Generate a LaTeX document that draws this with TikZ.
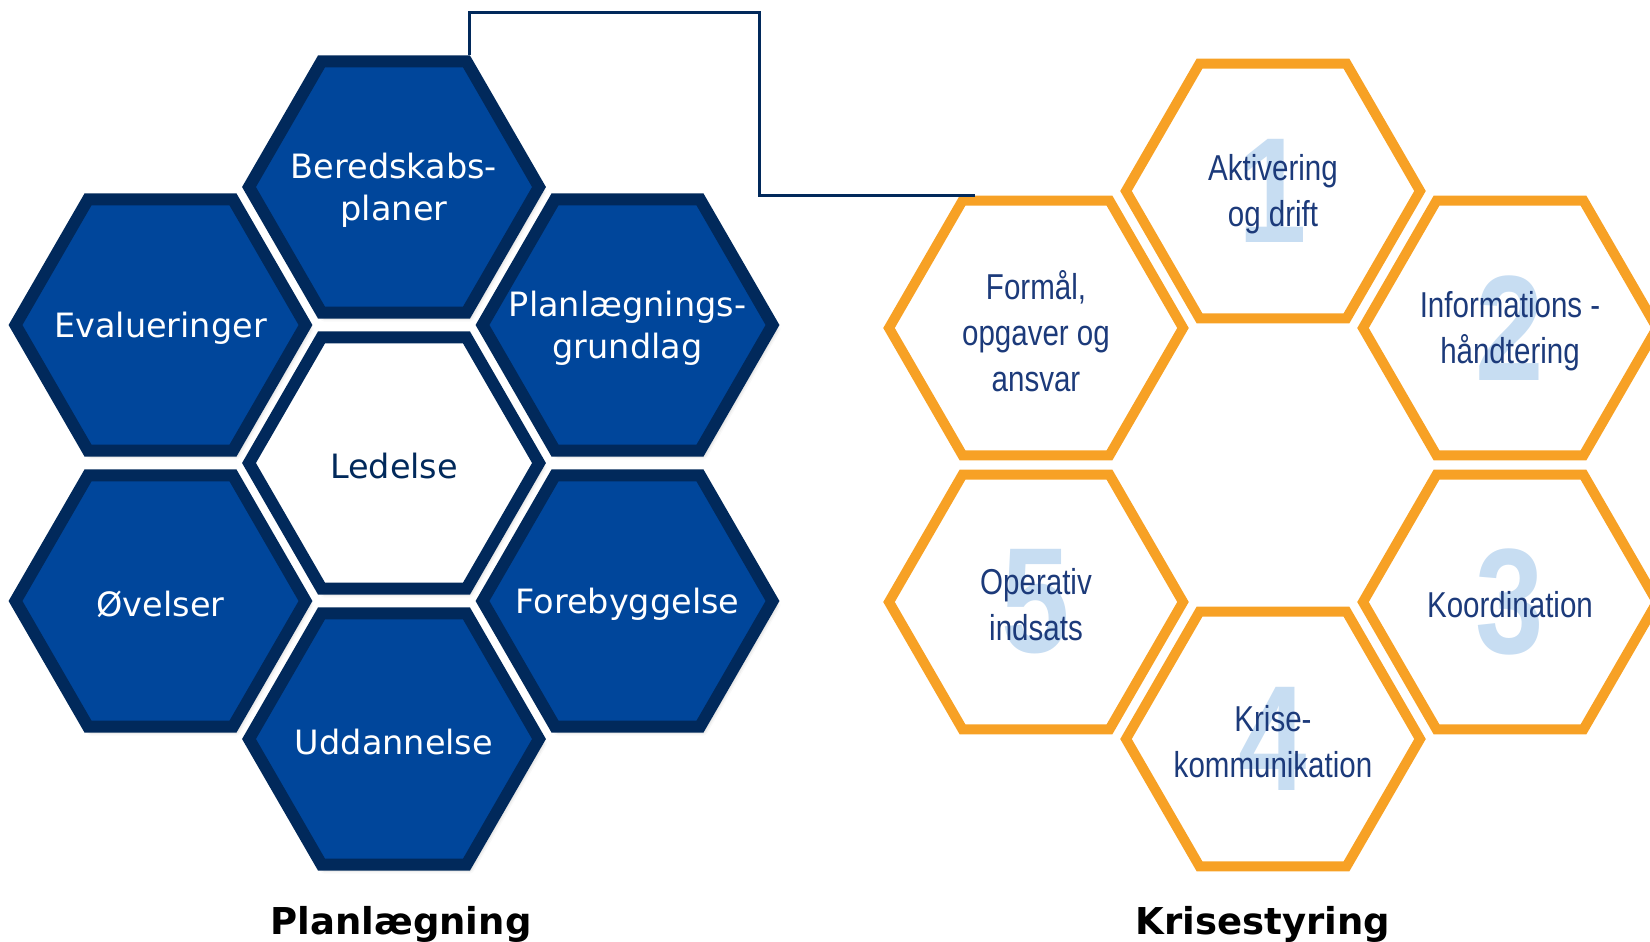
\documentclass[tikz,border=0pt]{standalone}
\usepackage{fontspec}
\setmainfont{DejaVu Sans}
\newfontfamily\narrowfont[FakeStretch=0.82]{Liberation Sans}
\usetikzlibrary{shapes.geometric,shadows.blur,calc}

\definecolor{hexblue}{HTML}{00469B}
\definecolor{hexnavy}{HTML}{01295B}
\definecolor{hexorange}{HTML}{F7A125}
\definecolor{textnavy}{HTML}{1C3A7A}
\definecolor{numblue}{HTML}{C7DDF2}

\tikzset{
  hexbase/.style={regular polygon, regular polygon sides=6, inner sep=0pt},
  planhex/.style={hexbase, minimum size=290pt, line width=12pt, draw=hexnavy, fill=hexblue,
    blur shadow={shadow xshift=3pt, shadow yshift=-4pt, shadow blur radius=5pt, shadow opacity=35}},
  lederhex/.style={planhex, fill=white},
  krisehex/.style={hexbase, minimum size=294pt, line width=10pt, draw=hexorange},
  plantext/.style={text=white, align=center, yshift=-3pt, font=\fontsize{33.5}{42}\selectfont},
  ledertext/.style={plantext, text=hexnavy},
  krisetext/.style={text=textnavy, align=center, yshift=-3pt, font=\narrowfont\fontsize{36}{46}\selectfont},
  krisenum/.style={text=numblue, font=\narrowfont\bfseries\fontsize{150}{150}\selectfont},
  title/.style={anchor=base, font=\bfseries\fontsize{37}{40}\selectfont},
  link/.style={draw=hexnavy, line width=3pt}
}

\begin{document}
\begin{tikzpicture}[x=1pt, y=-1pt]
  \useasboundingbox (0,0) rectangle (1650,942);

  % Planlaegning
  \node[planhex, label={[plantext]center:{Beredskabs-\\planer}}] (bered) at (394,187) {};
  \node[planhex, label={[plantext]center:Evalueringer}] (evaluer) at (160.5,325) {};
  \node[planhex, label={[plantext]center:{Planlægnings-\\grundlag}}] (grundlag) at (627.5,325) {};
  \node[lederhex, label={[ledertext]center:Ledelse}] (ledelse) at (394,463) {};
  \node[planhex, label={[plantext]center:Øvelser}] (oevelser) at (160.5,601) {};
  \node[planhex, label={[plantext]center:Forebyggelse}] (forebyg) at (627.5,601) {};
  \node[planhex, label={[plantext]center:Uddannelse}] (uddan) at (394,739) {};
  \node[title] (plantitle) at (401,934) {Planlægning};

  % Krisestyring
  \node[krisehex, label={[krisetext]center:{Formål,\\opgaver og\\ansvar}}] (formaal) at (1036,328) {};
  \node[krisehex, label={[krisenum]center:1}, label={[krisetext]center:{Aktivering\\og drift}}] (aktiv) at (1273,191) {};
  \node[krisehex, label={[krisenum]center:2}, label={[krisetext]center:{Informations -\\håndtering}}] (info) at (1510,328) {};
  \node[krisehex, label={[krisenum]center:3}, label={[krisetext]center:Koordination}] (koord) at (1510,602) {};
  \node[krisehex, label={[krisenum]center:4}, label={[krisetext]center:{Krise-\\kommunikation}}] (krisekom) at (1273,739) {};
  \node[krisehex, label={[krisenum]center:5}, label={[krisetext]center:{Operativ\\indsats}}] (operativ) at (1036,602) {};
  \node[title] (krisetitle) at (1263,934) {Krisestyring};

  % forbindelse
  \coordinate (bend) at (759,13);
  \draw[link] (bered.60) |- (bend) |- ($(formaal.120)+(15,0)$);
\end{tikzpicture}
\end{document}
